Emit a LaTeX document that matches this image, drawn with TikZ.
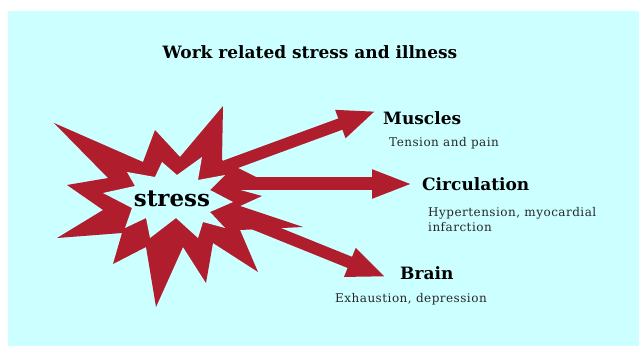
\documentclass[tikz,border=0pt]{standalone}
\usepackage{fontspec}
\setmainfont{DejaVu Serif}
\newfontfamily\smallserif[LetterSpace=4]{DejaVu Serif}
\usetikzlibrary{arrows.meta}
\definecolor{bgcyan}{RGB}{204,255,255}
\definecolor{starred}{RGB}{176,30,46}
\definecolor{txtgray}{RGB}{40,40,40}
\tikzset{
  blockarrow/.style={starred, line cap=butt},
  headlabel/.style={font=\bfseries\fontsize{17}{20}\selectfont, anchor=west, inner sep=0pt, text=black},
  notelabel/.style={font=\smallserif\fontsize{12}{15}\selectfont, anchor=west, inner sep=0pt, text=txtgray, align=left},
}
\begin{document}
\begin{tikzpicture}[x=1pt,y=-1pt]
\useasboundingbox (0,0) rectangle (639,347);
\fill[white] (0,0) rectangle (639,347);
\fill[bgcyan] (8,11) rectangle (639,346);
% title
\node[font=\bfseries\fontsize{17}{20}\selectfont, inner sep=0pt] (title) at (310,52) {Work related stress and illness};
% red starburst
\fill[starred] (54,123) -- (143,162) -- (155,130) -- (180,157) -- (223,106) -- (222,160)
  -- (258,178) -- (240,190) -- (262,196) -- (240,206) -- (303,227) -- (240,230)
  -- (258,272) -- (213,243) -- (206,283) -- (183,247) -- (156,307) -- (146,247)
  -- (113,264) -- (122,233) -- (57,238) -- (103,210) -- (67,185) -- (108,178) -- cycle;
% arrow coordinates
\coordinate (m0) at (226,166);
\coordinate (c0) at (236,184);
\coordinate (b0) at (230,214);
\coordinate (mt) at (376,111);
\coordinate (ct) at (413,184);
\coordinate (bt) at (386,277);
\draw[blockarrow, line width=12pt, -{Triangle[length=38pt,width=27pt]}] (m0) -- (mt);
\draw[blockarrow, line width=13pt, -{Triangle[length=41pt,width=26pt]}] (c0) -- (ct);
\draw[blockarrow, line width=12pt, -{Triangle[length=39pt,width=28pt]}] (b0) -- (bt);
% white inner star
\fill[bgcyan] (103,193) -- (135,186) -- (127,172) -- (155,177) -- (162,162) -- (177,175)
  -- (202,157) -- (198,180) -- (225,175) -- (210,190) -- (233,202) -- (210,212)
  -- (225,228) -- (203,222) -- (198,238) -- (176,218) -- (150,238) -- (146,218)
  -- (125,228) -- (132,208) -- cycle;
\node[font=\bfseries\fontsize{23}{26}\selectfont, inner sep=0pt] (stress) at (172,199) {stress};
% labels
\node[headlabel] (muscles) at (383,118) {Muscles};
\node[notelabel] (musclesnote) at (389,143) {Tension and pain};
\node[headlabel] (circ) at (422,184) {Circulation};
\node[notelabel, anchor=north west] (circnote) at (428,207) {Hypertension, myocardial\\infarction};
\node[headlabel] (brain) at (400,273) {Brain};
\node[notelabel] (brainnote) at (335,299) {Exhaustion, depression};
\end{tikzpicture}
\end{document}
